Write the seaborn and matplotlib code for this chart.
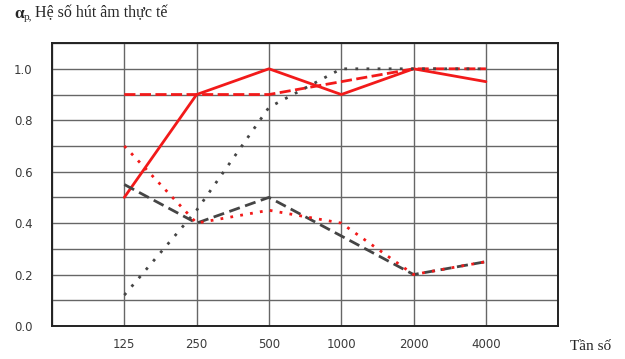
import pandas as pd
import matplotlib
matplotlib.use("Agg")
import matplotlib.pyplot as plt
import seaborn as sns

# -----------------------------
# DATA
# -----------------------------

freqs = ["125", "250", "500", "1000", "2000", "4000"]

red_solid = [0.50, 0.90, 1.00, 0.90, 1.00, 0.95]
red_dashed = [0.90, 0.90, 0.90, 0.95, 1.00, 1.00]
gray_dotted = [0.12, 0.45, 0.85, 1.00, 1.00, 1.00]
gray_dashed = [0.55, 0.40, 0.50, 0.35, 0.20, 0.25]
red_dotted = [0.70, 0.40, 0.45, 0.40, 0.20, 0.25]

series = {
    "red_solid": red_solid,
    "red_dashed": red_dashed,
    "gray_dotted": gray_dotted,
    "gray_dashed": gray_dashed,
    "red_dotted": red_dotted,
}

rows = []
for name, vals in series.items():
    for i, v in enumerate(vals):
        rows.append({"pos": i + 1, "freq": freqs[i], "value": v, "series": name})
df = pd.DataFrame(rows)

RED = "#f21a1a"
GRAY = "#454545"
palette = {"red_solid": RED, "red_dashed": RED, "red_dotted": RED,
           "gray_dotted": GRAY, "gray_dashed": GRAY}
dashes = {"red_solid": "", "red_dashed": (4, 1.6), "red_dotted": (1, 2.6),
          "gray_dotted": (1, 3.0), "gray_dashed": (4, 2)}

# -----------------------------
# PLOT
# -----------------------------

sns.set_style("white")
plt.rcParams["font.family"] = ["DejaVu Sans"]

fig = plt.figure(figsize=(6.25, 3.59), dpi=100)
ax = fig.add_axes([0.0832, 0.092, 0.810, 0.788])

sns.lineplot(data=df, x="pos", y="value", hue="series", style="series",
             palette=palette, dashes=dashes, linewidth=2, ax=ax,
             legend=False, zorder=3)

ax.set_xlim(0, 7)
ax.set_ylim(0, 1.1)
ax.set_xticks(range(1, 7))
ax.set_xticklabels(freqs)
ax.set_xticks(range(0, 8), minor=True)
ax.set_yticks([0, 0.2, 0.4, 0.6, 0.8, 1.0])
ax.set_yticklabels(["0.0", "0.2", "0.4", "0.6", "0.8", "1.0"])
ax.set_yticks([i / 10 for i in range(12)], minor=True)

ax.grid(True, which="minor", color="#666666", linewidth=1.0)
ax.grid(True, which="major", color="#666666", linewidth=1.0)
ax.tick_params(axis="both", which="both", length=0, labelsize=8.5,
               colors="#3a3a3a")
ax.tick_params(axis="x", pad=9)
ax.tick_params(axis="y", pad=14)
ax.set_xlabel("")
ax.set_ylabel("")
for sp in ax.spines.values():
    sp.set_color("#222222")
    sp.set_linewidth(1.4)

# title and axis name in serif
serif = ["Liberation Serif", "DejaVu Serif"]
fig.text(14 / 625, 1 - 14 / 359, "α", fontfamily=serif, fontsize=12.5,
         fontweight="bold", va="center", ha="left")
fig.text(23.5 / 625, 1 - 17 / 359, "p,", fontfamily=serif, fontsize=8,
         va="center", ha="left")
fig.text(35 / 625, 1 - 13 / 359, "Hệ số hút âm thực tế", fontfamily=serif,
         fontsize=11.5, va="center", ha="left")
fig.text(570 / 625, 1 - 346 / 359, "Tần số", fontfamily=serif,
         fontsize=11, va="center", ha="left")

plt.savefig("out.png", dpi=100)
